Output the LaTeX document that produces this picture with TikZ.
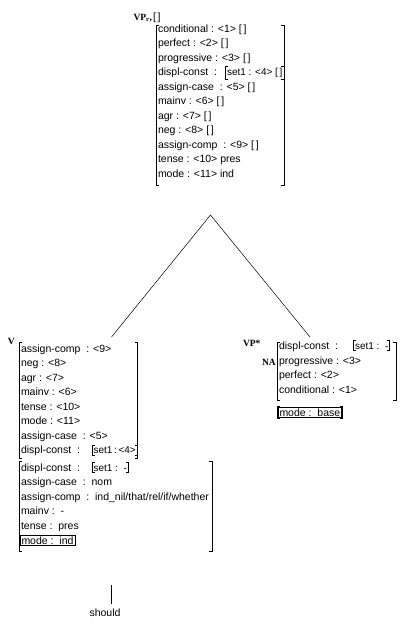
\documentclass[tikz,border=0pt]{standalone}
\usepackage{fontspec}
\setmainfont{Liberation Sans}
\newfontfamily\lblfont{Liberation Serif}
\usetikzlibrary{fit}
\newcommand\nodebrk[1]{%
  \draw[brk] ([xshift=2.5pt]#1.north west) -- (#1.north west) -- (#1.south west) -- ([xshift=2.5pt]#1.south west);
  \draw[brk] ([xshift=-2.5pt]#1.north east) -- (#1.north east) -- (#1.south east) -- ([xshift=-2.5pt]#1.south east);}
\newcommand\avmbrk[4]{%
  \draw[brk] (#1+3,#3) -- (#1,#3) -- (#1,#4) -- (#1+3,#4);
  \draw[brk] (#2-3,#3) -- (#2,#3) -- (#2,#4) -- (#2-3,#4);}
\begin{document}
\begin{tikzpicture}[x=1pt,y=-1pt,
  every node/.style={inner sep=0pt,outer sep=0pt},
  row/.style={anchor=base west,font=\fontsize{10.5}{12}\selectfont},
  val/.style={anchor=base west,font=\fontsize{10}{12}\selectfont,inner xsep=1.5pt,inner ysep=1.4pt},
  boxed/.style={anchor=base west,font=\fontsize{10.5}{12}\selectfont,draw,line width=0.8pt,inner xsep=1.5pt,inner ysep=1.2pt},
  lbl/.style={font=\lblfont\bfseries\fontsize{9.5}{10}\selectfont},
  brk/.style={line width=0.8pt},
  link/.style={line width=0.5pt}]
\useasboundingbox (0,0) rectangle (408,627);

% ---- top VP_r ----
\node[lbl,anchor=base east] (vpr) at (152,20) {VP\textsubscript{r},};
\node[row] (vpre) at (153,20) {[\,]};
\node[row] (t0) at (158,32) {conditional : <1> [\,]};
\node[row] (t1) at (158,46.5) {perfect : <2> [\,]};
\node[row] (t2) at (158,61) {progressive : <3> [\,]};
\node[row] (t3) at (158,75.5) {displ-const\ \ :\ \ };
\node[val] (t3v) at (225.5,75.5) {set1 : <4> [\,]};
\nodebrk{t3v}
\node[row] (t4) at (158,90) {assign-case\ \ : <5> [\,]};
\node[row] (t5) at (158,104.5) {mainv : <6> [\,]};
\node[row] (t6) at (158,119) {agr : <7> [\,]};
\node[row] (t7) at (158,133.5) {neg : <8> [\,]};
\node[row] (t8) at (158,148) {assign-comp\ \ : <9> [\,]};
\node[row] (t9) at (158,162.5) {tense : <10> pres};
\node[row] (t10) at (158,177) {mode : <11> ind};
\avmbrk{156}{284}{25}{185}

% ---- tree lines ----
\coordinate (apex) at (210.5,215);
\coordinate (lft) at (111.5,337);
\coordinate (rgt) at (310,337);
\draw[link] (lft) -- (apex) -- (rgt);

% ---- V ----
\node[lbl,anchor=base west] (v) at (8,344) {V};
\node[row] (va0) at (21,352) {assign-comp\ \ : <9>};
\node[row] (va1) at (21,366.5) {neg : <8>};
\node[row] (va2) at (21,381) {agr : <7>};
\node[row] (va3) at (21,395.5) {mainv : <6>};
\node[row] (va4) at (21,410) {tense : <10>};
\node[row] (va5) at (21,424.5) {mode : <11>};
\node[row] (va6) at (21,439) {assign-case\ \ : <5>};
\node[row] (va7) at (21,453.5) {displ-const\ \ :\ \ };
\node[val] (va7v) at (92,453.5) {set1\,:\,<4>};
\nodebrk{va7v}
\avmbrk{19}{137.5}{342}{458}

\node[row] (vb0) at (21,471) {displ-const\ \ :\ \ };
\node[val] (vb0v) at (92,471) {set1 :\ \ -};
\nodebrk{vb0v}
\node[row] (vb1) at (21,485.6) {assign-case\ \ :\ \ nom};
\node[row] (vb2) at (21,500.2) {assign-comp\ \ :\ \ ind\_nil/that/rel/if/whether};
\node[row] (vb3) at (21,514.8) {mainv :\ \ -};
\node[row] (vb4) at (21,529.4) {tense :\ \ pres};
\node[boxed] (vb5) at (20,544) {mode :\ \ ind};
\avmbrk{19}{212}{461}{551}

% ---- VP* ----
\node[lbl,anchor=base west] (vps) at (243,346) {VP*};
\node[lbl,anchor=base west] (na) at (262,365) {NA};
\node[row] (p0) at (279,349) {displ-const\ \ :\ \ };
\node[val] (p0v) at (353.5,349) {set1 :\ \ -};
\nodebrk{p0v}
\node[row] (p1) at (279,364) {progressive : <3>};
\node[row] (p2) at (279,378.5) {perfect : <2>};
\node[row] (p3) at (279,393) {conditional : <1>};
\avmbrk{277}{396}{342}{400}
\node[boxed] (pm) at (278,416) {mode :\ \ base};
\node[fit=(pm),inner sep=1pt] (pmb) {};
\nodebrk{pmb}

% ---- should ----
\coordinate (stop) at (111,585);
\coordinate (sbot) at (111,604);
\node[row,anchor=base] (should) at (105,616) {should};
\draw[link] (stop) -- (sbot);
\end{tikzpicture}
\end{document}
